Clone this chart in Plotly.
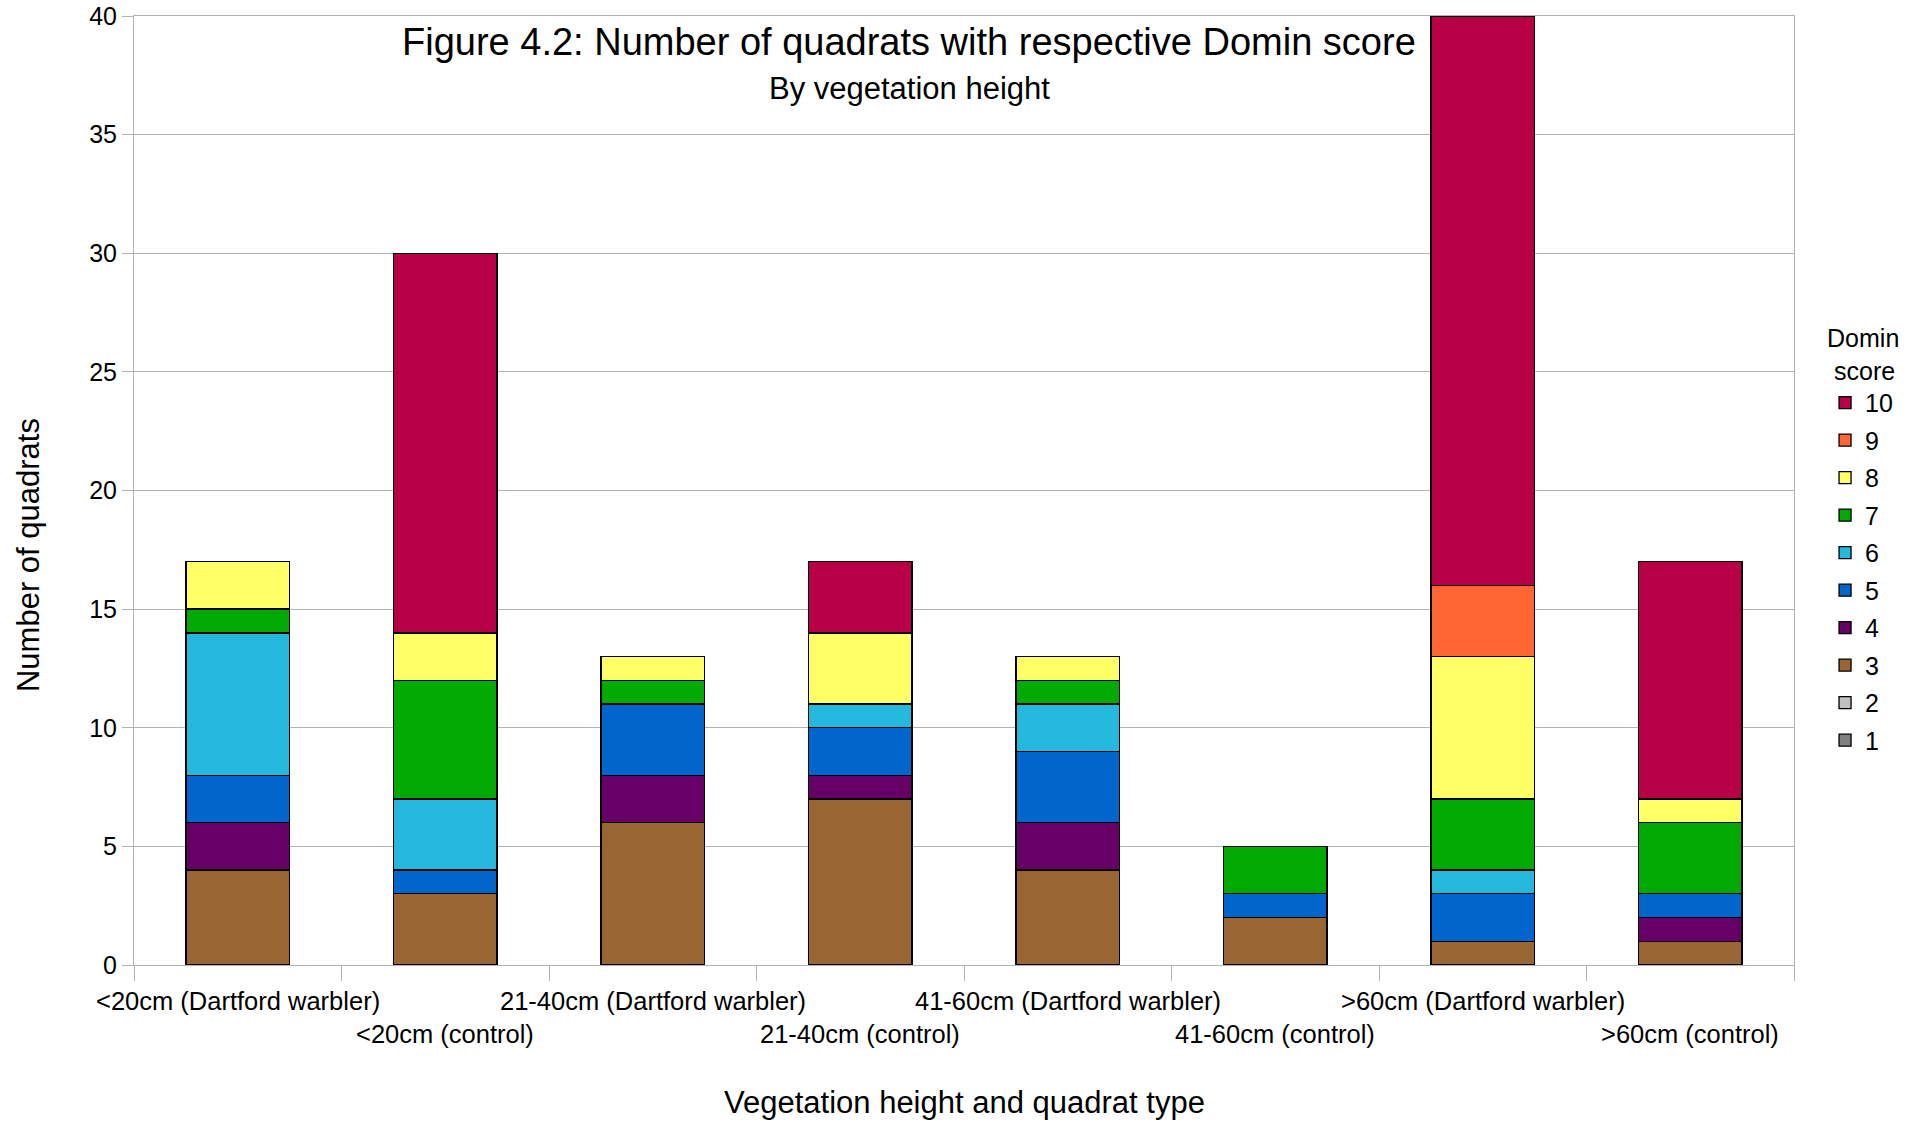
import plotly.graph_objects as go

# Vegetation height class and quadrat type (x categories)
categories = [
    "<20cm (Dartford warbler)",
    "<20cm (control)",
    "21-40cm (Dartford warbler)",
    "21-40cm (control)",
    "41-60cm (Dartford warbler)",
    "41-60cm (control)",
    ">60cm (Dartford warbler)",
    ">60cm (control)",
]

# Number of quadrats per Domin score, one list per score (stacked bottom to top)
domin_1 = [0, 0, 0, 0, 0, 0, 0, 0]
domin_2 = [0, 0, 0, 0, 0, 0, 0, 0]
domin_3 = [4, 3, 6, 7, 4, 2, 1, 1]
domin_4 = [2, 0, 2, 1, 2, 0, 0, 1]
domin_5 = [2, 1, 3, 2, 3, 1, 2, 1]
domin_6 = [6, 3, 0, 1, 2, 0, 1, 0]
domin_7 = [1, 5, 1, 0, 1, 2, 3, 3]
domin_8 = [2, 2, 1, 3, 1, 0, 6, 1]
domin_9 = [0, 0, 0, 0, 0, 0, 3, 0]
domin_10 = [0, 16, 0, 3, 0, 0, 24, 10]

score_names = ["1", "2", "3", "4", "5", "6", "7", "8", "9", "10"]
score_values = [domin_1, domin_2, domin_3, domin_4, domin_5,
                domin_6, domin_7, domin_8, domin_9, domin_10]
score_colors = ["#808080", "#c0c0c0", "#996633", "#660066", "#0066cc",
                "#23b8dc", "#00aa00", "#ffff66", "#ff6633", "#b80047"]

FONT = "Liberation Sans, Arial, sans-serif"
GRID = "#b3b3b3"

fig = go.Figure()
for k, (name, vals, col) in enumerate(zip(score_names, score_values, score_colors)):
    fig.add_trace(go.Bar(
        x=categories, y=vals, name=name, legendgroup=name,
        legendrank=len(score_names) - k,  # highest score listed first
        marker=dict(color=col, line=dict(color="#000000", width=1.3)),
    ))

annotations = []
# Staggered category labels under the x axis
for i, cat in enumerate(categories):
    annotations.append(dict(
        x=cat, xref="x", y=0, yref="paper",
        text=cat.replace("<", "&lt;").replace(">", "&gt;"),
        showarrow=False, yanchor="middle", xanchor="center",
        yshift=-36 if i % 2 == 0 else -69,
        font=dict(family=FONT, size=25.5, color="#000000"),
    ))

# Title and subtitle
annotations.append(dict(
    text="Figure 4.2: Number of quadrats with respective Domin score",
    x=0.4669, xref="paper", y=1, yref="paper", yshift=-25.5,
    showarrow=False, xanchor="center", yanchor="middle",
    font=dict(family=FONT, size=38, color="#000000"),
))
annotations.append(dict(
    text="By vegetation height",
    x=0.4669, xref="paper", y=1, yref="paper", yshift=-72.5,
    showarrow=False, xanchor="center", yanchor="middle",
    font=dict(family=FONT, size=31, color="#000000"),
))
# Axis titles
annotations.append(dict(
    text="Vegetation height and quadrat type",
    x=0.5, xref="paper", y=0, yref="paper", yshift=-137,
    showarrow=False, xanchor="center", yanchor="middle",
    font=dict(family=FONT, size=31, color="#000000"),
))
annotations.append(dict(
    text="Number of quadrats", textangle=-90,
    x=0, xref="paper", xshift=-106, y=0.432, yref="paper",
    showarrow=False, xanchor="center", yanchor="middle",
    font=dict(family=FONT, size=31, color="#000000"),
))

fig.update_layout(
    width=1919, height=1125,
    margin=dict(l=134, r=125, t=16, b=160, autoexpand=False),
    paper_bgcolor="#ffffff", plot_bgcolor="#ffffff",
    barmode="stack", bargap=0.5,
    font=dict(family=FONT, size=25, color="#000000"),
    showlegend=True,
    legend=dict(
        x=1.0187, xanchor="left", y=0.685, yanchor="top",
        traceorder="grouped", tracegroupgap=2,
        title=dict(text="Domin<br>&nbsp;score", side="top",
                   font=dict(family=FONT, size=25)),
        font=dict(family=FONT, size=25, color="#000000"),
        bgcolor="rgba(0,0,0,0)", borderwidth=0,
    ),
    annotations=annotations,
)

fig.update_xaxes(
    type="category", range=[-0.5, len(categories) - 0.5], autorange=False,
    showticklabels=False, automargin=False,
    tickson="boundaries", ticks="outside", ticklen=15, tickcolor=GRID,
    showline=True, linecolor=GRID, linewidth=1, mirror=True,
    showgrid=False, zeroline=False,
)
fig.update_yaxes(
    range=[0, 40], dtick=5, tick0=0, automargin=False,
    ticks="outside", ticklen=11, tickcolor=GRID,
    showline=True, linecolor=GRID, linewidth=1, mirror=True,
    showgrid=True, gridcolor=GRID, gridwidth=1, zeroline=False,
    tickfont=dict(family=FONT, size=25, color="#000000"),
)

fig.write_html("out.html")
